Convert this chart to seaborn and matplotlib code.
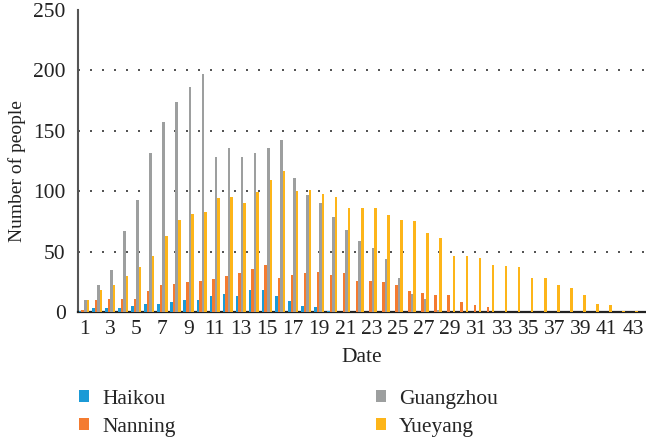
import numpy as np
import pandas as pd
import matplotlib
matplotlib.use("Agg")
import matplotlib.pyplot as plt
import seaborn as sns
from matplotlib.patches import Patch

dates = [str(d) for d in range(1, 44)]
cities = ["Haikou", "Nanning", "Guangzhou", "Yueyang"]

haikou = [1, 3, 3, 3, 5, 7, 7, 8, 10, 10, 13, 15, 13, 18, 18, 13, 9, 5, 4, 1,
          0, 0, 0, 0, 0, 0, 0, 0, 0, 0, 0, 0, 0, 0, 0, 0, 0, 0, 0, 0, 0, 0, 0]
nanning = [2, 10, 11, 11, 11, 17, 22, 23, 25, 26, 27, 30, 32, 36, 39, 28, 31, 32, 33, 31,
           32, 26, 26, 25, 22, 17, 16, 14, 14, 8, 6, 4, 0, 0, 0, 0, 0, 0, 0, 0, 0, 0, 0]
guangzhou = [10, 22, 35, 67, 93, 132, 157, 174, 186, 197, 128, 136, 128, 132, 136, 142, 111, 97, 90, 79,
             68, 59, 53, 44, 28, 15, 11, 2, 0, 0, 0, 0, 0, 0, 0, 0, 0, 0, 0, 0, 0, 0, 0]
yueyang = [10, 18, 22, 30, 37, 46, 63, 76, 81, 83, 94, 95, 90, 99, 109, 117, 100, 101, 98, 95,
           86, 86, 86, 80, 76, 75, 65, 61, 46, 46, 45, 39, 38, 37, 28, 28, 22, 20, 14, 7, 6, 1, 1]

colors = ["#1b9ad6", "#f47b30", "#9d9f9f", "#fdb519"]

series = {"Haikou": haikou, "Nanning": nanning, "Guangzhou": guangzhou, "Yueyang": yueyang}
df = pd.DataFrame([
    {"Date": d, "City": c, "People": v}
    for c in cities for d, v in zip(dates, series[c])
])

sns.set_theme(style="white")
plt.rcParams["font.family"] = ["Liberation Serif", "DejaVu Serif"]

fig = plt.figure(figsize=(6.46, 4.43), dpi=100)
ax = fig.add_axes([78 / 646, 131 / 443, (646 - 78) / 646, 302 / 443])

sns.barplot(data=df, x="Date", y="People", hue="City", order=dates, hue_order=cities,
            palette=colors, width=0.78, saturation=1, ax=ax, legend=False, zorder=3,
            linewidth=0, edgecolor="none")

for yv in [50, 100, 150, 200]:
    ax.axhline(yv, color="#333333", linewidth=1.2, linestyle=(0, (1.2, 6)), zorder=1)

ax.set_ylim(0, 250)
ax.set_xlim(-0.46, 43.0)
ax.set_yticks([0, 50, 100, 150, 200, 250])
ax.set_xticks(range(0, 43, 2))
ax.set_xticklabels(dates[::2])
ax.tick_params(axis="both", length=0, labelsize=15.5, colors="#222222")
ax.tick_params(axis="x", pad=6)
ax.tick_params(axis="y", pad=9)

ax.set_xlabel("Date", fontsize=15.5, color="#222222", labelpad=6)
ax.set_ylabel("Number of people", fontsize=14, color="#222222")
ax.yaxis.set_label_coords(-0.092, 0.467)

for s in ["top", "right"]:
    ax.spines[s].set_visible(False)
ax.spines["left"].set_color("#555555")
ax.spines["left"].set_linewidth(1.5)
ax.spines["bottom"].set_color("#222222")
ax.spines["bottom"].set_linewidth(1.6)

handles = [Patch(facecolor=c, edgecolor="none", label=n) for c, n in zip(colors, cities)]
fig.legend(handles=handles, loc="upper left", bbox_to_anchor=(79 / 646, 1 - 390 / 443),
           ncol=2, frameon=False, fontsize=15.5, borderpad=0, borderaxespad=0,
           handlelength=0.47, handleheight=0.47, handletextpad=0.6,
           columnspacing=9.3, labelspacing=0.4)

fig.savefig("out.png", dpi=100)
